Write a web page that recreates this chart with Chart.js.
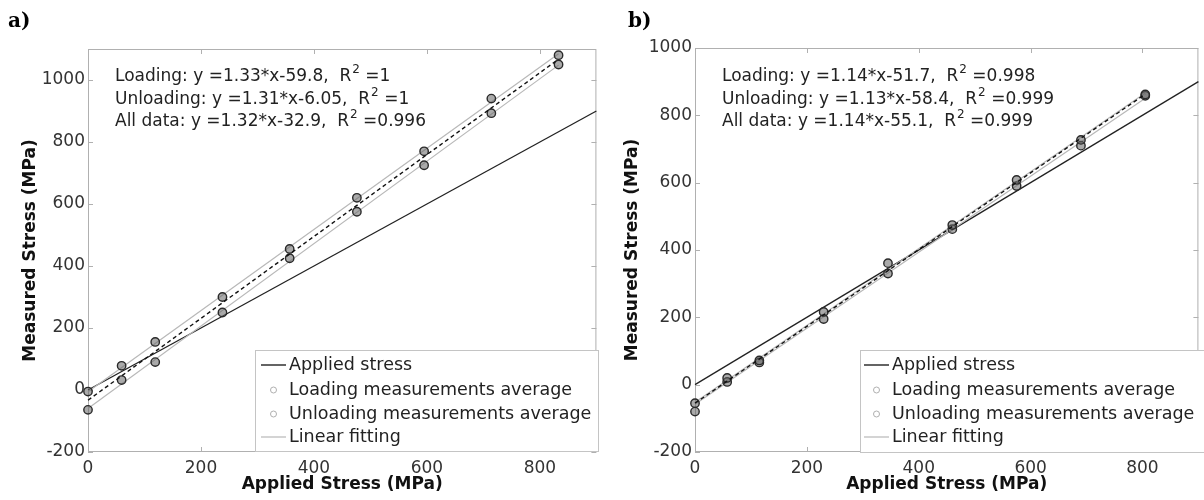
<!DOCTYPE html>
<html>
<head>
<meta charset="utf-8">
<script src="https://cdn.jsdelivr.net/npm/chart.js@4.4.1/dist/chart.umd.min.js"></script>
<style>
  body { margin: 0; background: #fff; }
  #wrap { position: relative; width: 1204px; height: 500px; overflow: hidden; }
  canvas { position: absolute; top: 0; }
  #chartA { left: 0; }
  #chartB { left: 602px; }
  .lab { position: absolute; top: 8px; font: bold 20px "DejaVu Serif"; color: #000; }
</style>
</head>
<body>
<div id="wrap">
  <canvas id="chartA" width="602" height="500"></canvas>
  <canvas id="chartB" width="602" height="500"></canvas>
  <div class="lab" style="left:8px">a)</div>
  <div class="lab" style="left:628px">b)</div>
</div>
<script>
// ---- data ----
const xTicks = [0, 200, 400, 600, 800];
const yTicks = [-200, 0, 200, 400, 600, 800, 1000];

// panel a)
const stressA = [0, 59.5, 119, 238, 357, 476, 595, 714, 833];
const loadA = [-64, 32, 90, 250, 425, 575, 725, 893, 1050];
const unloadA = [-5, 78, 155, 300, 455, 620, 770, 940, 1080];
const fitLoadA = [{x: 0, y: -60}, {x: 833, y: 1048}];
const fitUnloadA = [{x: 0, y: -6}, {x: 833, y: 1085}];
const fitAllA = [{x: 0, y: -33}, {x: 833, y: 1067}];
const textA = [
  ['Loading: y =1.33*x-59.8,  R', '2', ' =1'],
  ['Unloading: y =1.31*x-6.05,  R', '2', ' =1'],
  ['All data: y =1.32*x-32.9,  R', '2', ' =0.996']
];

// panel b)
const stressB = [0, 57.5, 115, 230, 345, 460, 575, 690, 805];
const loadB = [-55, 20, 72, 216, 361, 474, 608, 727, 862];
const unloadB = [-80, 8, 66, 195, 330, 462, 590, 710, 858];
const fitLoadB = [{x: 0, y: -52}, {x: 805, y: 866}];
const fitUnloadB = [{x: 0, y: -58}, {x: 805, y: 851}];
const fitAllB = [{x: 0, y: -55}, {x: 805, y: 863}];
const textB = [
  ['Loading: y =1.14*x-51.7,  R', '2', ' =0.998'],
  ['Unloading: y =1.13*x-58.4,  R', '2', ' =0.999'],
  ['All data: y =1.14*x-55.1,  R', '2', ' =0.999']
];

const appliedLine = [{x: 0, y: 0}, {x: 900, y: 900}];
const legendLabels = ['Applied stress', 'Loading measurements average', 'Unloading measurements average', 'Linear fitting'];

const FONT = '"DejaVu Sans"';

const framePlugin = {
  id: 'frame',
  beforeDatasetsDraw(chart, args, o) {
    const {ctx, chartArea: a, scales: {x, y}} = chart;
    ctx.save();
    ctx.strokeStyle = '#b0b0b0';
    ctx.lineWidth = 1;
    ctx.strokeRect(a.left + 0.5, a.top + 0.5, a.right - a.left - 1, a.bottom - a.top - 1);
    ctx.beginPath();
    x.ticks.forEach(t => {
      const px = Math.round(x.getPixelForValue(t.value)) + 0.5;
      ctx.moveTo(px, a.bottom); ctx.lineTo(px, a.bottom - 5);
      ctx.moveTo(px, a.top); ctx.lineTo(px, a.top + 5);
    });
    y.ticks.forEach(t => {
      const py = Math.round(y.getPixelForValue(t.value)) + 0.5;
      ctx.moveTo(a.left, py); ctx.lineTo(a.left + 5, py);
      ctx.moveTo(a.right, py); ctx.lineTo(a.right - 5, py);
    });
    ctx.stroke();
    ctx.restore();
  },
  afterDatasetsDraw(chart, args, o) {
    const ctx = chart.ctx;
    ctx.save();
    // fit equations
    ctx.fillStyle = '#222';
    ctx.textBaseline = 'middle';
    o.text.forEach((parts, i) => {
      const y = o.textY[i];
      let x = o.textX;
      ctx.font = '17px ' + FONT;
      ctx.fillText(parts[0], x, y);
      x += ctx.measureText(parts[0]).width + 1;
      ctx.font = '12px ' + FONT;
      ctx.fillText(parts[1], x, y - 7);
      x += ctx.measureText(parts[1]).width;
      ctx.font = '17px ' + FONT;
      ctx.fillText(parts[2], x, y);
    });
    // legend
    const b = o.box;
    ctx.fillStyle = '#fff';
    ctx.fillRect(b.left, b.top, b.right - b.left, b.bottom - b.top);
    ctx.strokeStyle = '#c4c4c4';
    ctx.lineWidth = 1;
    ctx.strokeRect(b.left + 0.5, b.top + 0.5, b.right - b.left, b.bottom - b.top);
    const rows = [365, 390, 414, 437];
    ctx.font = '17.5px ' + FONT;
    ctx.fillStyle = '#222';
    legendLabels.forEach((lab, i) => {
      const ry = rows[i];
      ctx.fillText(lab, b.text, ry);
      const s0 = b.text - 28, s1 = b.text - 3, sm = (s0 + s1) / 2;
      if (i === 0 || i === 3) {
        ctx.strokeStyle = i === 0 ? '#222' : '#b8b8b8';
        ctx.lineWidth = i === 0 ? 1.4 : 1.2;
        ctx.beginPath(); ctx.moveTo(s0, ry); ctx.lineTo(s1, ry); ctx.stroke();
      } else {
        ctx.strokeStyle = '#b0b0b0';
        ctx.lineWidth = 1;
        ctx.beginPath(); ctx.arc(sm, ry, 3, 0, Math.PI * 2); ctx.stroke();
      }
    });
    ctx.restore();
  }
};

function pts(xs, ys) {
  return xs.map((v, i) => ({x: v, y: ys[i]}));
}

function makeChart(id, d) {
  const marker = {
    type: 'scatter', showLine: false, clip: false,
    pointRadius: 4.2, pointHoverRadius: 4.2,
    pointBackgroundColor: 'rgba(100,100,100,0.55)',
    pointBorderColor: '#2a2a2a', pointBorderWidth: 1.4
  };
  const line = (data, color, width, dash) => ({
    type: 'scatter', data, showLine: true, pointRadius: 0,
    borderColor: color, borderWidth: width, borderDash: dash || [], clip: false
  });
  return new Chart(document.getElementById(id), {
    type: 'scatter',
    data: {
      datasets: [
        line(d.fitAll, '#111', 1.4, [4, 3]),
        Object.assign({label: 'loading', data: pts(d.stress, d.load)}, marker),
        Object.assign({label: 'unloading', data: pts(d.stress, d.unload)}, marker),
        line(d.fitLoad, '#b8b8b8', 1.2),
        line(d.fitUnload, '#b8b8b8', 1.2),
        line(appliedLine, '#222', 1.3)
      ]
    },
    options: {
      responsive: false,
      animation: false,
      layout: {padding: {left: 0, top: d.top, right: d.right, bottom: 0}},
      plugins: {
        legend: {display: false},
        tooltip: {enabled: false},
        frame: {text: d.text, textX: d.textX, textY: [77, 100, 122], box: d.box}
      },
      scales: {
        x: {
          type: 'linear', min: 0, max: 900,
          grid: {display: false, drawTicks: false},
          border: {display: false},
          afterBuildTicks: s => { s.ticks = xTicks.map(v => ({value: v})); },
          afterFit: s => { s.height = 48; },
          ticks: {color: '#333', padding: 6, font: {family: FONT, size: 17}, callback: v => String(v)},
          title: {display: true, text: 'Applied Stress (MPa)', color: '#111',
            padding: {top: 0, bottom: 5}, font: {family: FONT, size: 17, weight: 'bold'}}
        },
        y: {
          type: 'linear', min: -200, max: d.ymax,
          grid: {display: false, drawTicks: false},
          border: {display: false},
          afterBuildTicks: s => { s.ticks = yTicks.map(v => ({value: v})); },
          afterFit: s => { s.width = d.yw; },
          ticks: {color: '#333', padding: 3, font: {family: FONT, size: 17}, callback: v => String(v)},
          title: {display: true, text: 'Measured Stress (MPa)', color: '#111',
            padding: {top: 20, bottom: 0}, font: {family: FONT, size: 17, weight: 'bold'}}
        }
      }
    },
    plugins: [framePlugin]
  });
}

makeChart('chartA', {
  stress: stressA, load: loadA, unload: unloadA,
  fitLoad: fitLoadA, fitUnload: fitUnloadA, fitAll: fitAllA,
  text: textA, textX: 115, ymax: 1100, yw: 88, top: 49, right: 2,
  box: {left: 255, top: 350, right: 598, bottom: 451, text: 289}
});

makeChart('chartB', {
  stress: stressB, load: loadB, unload: unloadB,
  fitLoad: fitLoadB, fitUnload: fitUnloadB, fitAll: fitAllB,
  text: textB, textX: 120, ymax: 1000, yw: 93, top: 48, right: 0,
  box: {left: 258, top: 350, right: 612, bottom: 452, text: 290}
});
</script>
</body>
</html>
